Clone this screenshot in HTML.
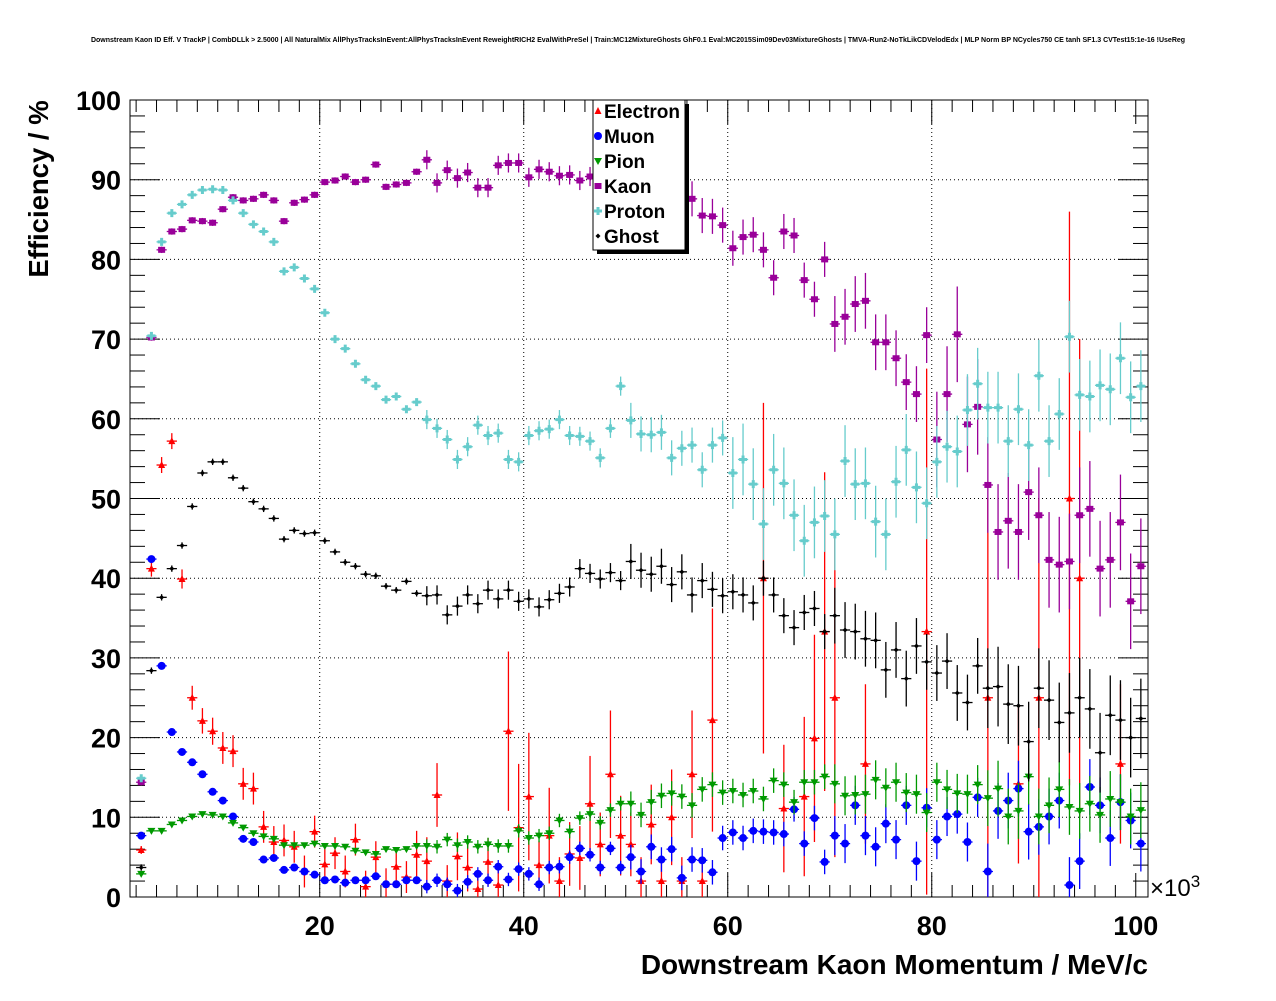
<!DOCTYPE html>
<html><head><meta charset="utf-8">
<style>
body{margin:0;background:#fff;font-family:"Liberation Sans",sans-serif;}
svg text{font-family:"Liberation Sans",sans-serif;}
</style></head><body>
<svg id="c" width="1276" height="996" xmlns="http://www.w3.org/2000/svg">
<rect x="0" y="0" width="1276" height="996" fill="#fff"/>
<text x="638" y="42" font-size="7" font-weight="bold" text-anchor="middle">Downstream Kaon ID Eff. V TrackP | CombDLLk &gt; 2.5000 | All NaturalMix AllPhysTracksInEvent:AllPhysTracksInEvent ReweightRICH2 EvalWithPreSel | Train:MC12MixtureGhosts GhF0.1 Eval:MC2015Sim09Dev03MixtureGhosts | TMVA-Run2-NoTkLikCDVelodEdx | MLP Norm BP NCycles750 CE tanh SF1.3 CVTest15:1e-16 !UseReg</text>
<g id="grid"></g>
<g id="axes"></g>
<g id="marks"></g>
<text x="48" y="189" font-size="27.5" font-weight="bold" text-anchor="middle" transform="rotate(-90 48 189)">Efficiency / %</text>
<text x="1148" y="974" font-size="28" font-weight="bold" text-anchor="end">Downstream Kaon Momentum / MeV/c</text>
<text x="1150" y="896" font-size="24">×10<tspan font-size="17" dy="-9">3</tspan></text>
<g>
<rect x="597" y="104" width="92" height="150" fill="#000"/>
<rect x="593" y="100" width="92" height="150" fill="#fff" stroke="#000" stroke-width="1"/>
<g id="leg"></g>
</g>
</svg>
<script>
const categories=[];for(let i=0;i<99;i++)categories.push(2.5+i);
const electron=[5.9,41.2,54.2,57.2,39.9,25,22.1,20.8,18.7,18.3,14.2,13.6,8.8,6.9,7.1,6.3,3.2,8.2,4.1,5.5,3.2,7.2,1.3,5,1.6,3.8,2.5,5.3,4.5,12.8,2,5.1,3.7,1,4.4,1.5,20.8,8.7,12.6,4,7.7,2,5.4,4.9,11.7,6.6,15.4,7.7,6.6,2,9.1,2,10,2,15.4,2,22.2,0,0,0,0,40,0,11.1,0,12.6,19.9,33.3,25,0,0,16.7,0,0,0,0,0,33.3,0,0,0,0,0,25,0,0,14.2,0,25,0,0,50,40,0,0,0,16.7,0,0];
const electronErr=[0.5,1,1,1,1.2,1.5,1.6,1.7,2,2,2,2,2,2,2,2,2,2,2,2,2,2,2,2,2,2,2,3,3,4,2,3,3,2,3,2,10,8,8,3,6,3,4,4,6,4,8,5,4,3,5,3,6,3,8,3,14,3,3,3,3,22,3,8,3,10,13,20,20,3,3,10,3,3,3,3,3,33,3,3,3,3,3,25,3,3,10,3,25,3,3,36,30,3,3,3,10,3,3];
const muon=[7.7,42.4,29,20.7,18.2,16.9,15.4,13.2,12.1,10.1,7.3,6.9,4.7,4.9,3.4,3.7,3.2,2.8,2.1,2.2,1.8,2.1,2.1,2.6,1.6,1.6,2.1,2.1,1.3,2.1,1.6,0.8,1.9,2.9,2.1,3.8,2.2,3.5,2.9,1.6,3.7,3.8,5,6.1,5.3,3.7,6.1,3.7,5,3.2,6.3,4.7,6,2.4,4.7,4.6,3.1,7.4,8.1,7.4,8.3,8.2,8.1,7.9,11,6.7,9.9,4.4,7.7,6.7,11.5,7.7,6.3,9.2,7.2,11.5,4.5,11.2,7.2,10.1,10.4,6.9,12.5,3.2,10.8,12.1,13.6,8.2,8.8,10.1,12.1,1.5,4.5,13.8,11.5,7.4,11.9,9.6,6.7];
const pion=[2.9,8.3,8.3,9.1,9.6,10.1,10.4,10.3,10.1,9.3,8.7,8,7.6,7.3,6.5,6.5,6.5,6.7,6.4,6.4,6.3,5.8,5.6,5.4,6,5.9,6,6.4,6.4,6.3,7.2,6.5,6.9,6.3,6.6,6.4,6.4,8.3,7.4,7.7,8,9.6,8.2,9.9,10.4,9.3,10.9,11.7,11.7,10.3,11.9,12.7,13,12.6,11.5,13.5,14.1,13.1,13.3,12.8,13.3,12.3,14.6,14.1,11.9,14.4,14.4,15.1,14.2,12.7,12.8,12.9,14.7,13.7,14.4,13.1,12.9,10.6,14.4,13.5,13,12.9,14.1,12.4,13.6,10.1,10.8,15.1,10.1,11.5,13.5,11.3,10.8,11.7,10.3,12.3,11.9,10.1,10.9];
const kaon=[14.4,70.2,81.2,83.5,83.8,84.9,84.8,84.6,86.3,87.8,87.4,87.6,88.1,87.4,84.8,87.1,87.5,88.1,89.7,89.9,90.4,89.7,90,91.9,89.1,89.4,89.6,91,92.5,89.6,91.2,90.2,90.9,89,89,91.8,92.1,92.1,90.3,91.3,91,90.5,90.6,89.9,90.4,90.5,90,90,89.5,89.5,89,89,88.5,88,87.6,85.5,85.4,84.3,81.4,82.8,83.1,81.2,77.7,83.5,83,77.4,75,80,71.9,72.8,74.4,74.8,69.6,69.6,67.6,64.6,63.1,70.5,57.4,63.1,70.6,59.3,61.5,51.7,45.8,47.2,45.8,50.8,47.9,42.3,41.7,42.1,47.9,48.7,41.2,42.3,47,37.1,41.5];
const proton=[14.9,70.4,82.2,85.8,86.9,88.1,88.7,88.8,88.7,87.4,85.8,84.4,83.5,82.2,78.5,79,77.6,76.3,73.3,70,68.8,66.9,64.9,64.1,62.4,62.8,61.2,62.1,59.9,58.8,57.4,54.9,56.5,59.2,57.9,58.2,54.9,54.6,57.9,58.5,58.7,59.9,57.9,57.8,57.2,55.1,58.8,64.1,59.8,58.1,58,58.3,55.1,56.3,56.7,53.6,56.7,57.6,53.2,54.9,51.8,46.8,53.6,51.9,47.9,44.7,47,47.8,45.5,54.7,51.8,51.9,47.1,45.5,52.1,56.1,51.4,49.4,54.6,56.5,55.9,61.1,64.4,61.4,61.4,57.2,61.2,56.7,65.4,57.2,60.6,70.3,63,62.8,64.2,63.7,67.6,62.7,64.1];
const ghost=[3.7,28.4,37.6,41.2,44.1,49,53.2,54.6,54.6,52.6,51.3,49.6,48.7,47.5,44.9,46,45.6,45.7,44.7,43.3,42,41.5,40.5,40.3,39,38.5,39.6,38.1,37.8,37.9,35.4,36.5,37.9,36.8,38.5,37.4,38.5,37.1,37.4,36.4,37.3,38.1,38.9,41.2,40.6,39.9,40.7,39.7,42.1,41,40.5,41.5,39.2,40.8,37.9,39.7,38.6,37.8,38.3,37.9,36.9,40,37.9,35.3,33.8,35.7,36.2,33.3,35.3,33.5,33.3,32.4,32.2,28.5,31,27.4,31.5,29.5,28.1,29.6,25.6,24.4,29,26.2,26.4,24.2,24,19.5,26.2,24.7,21.9,23.1,25,23.6,18.1,22.8,22.2,20,22.4];
const xTicks=[20,40,60,80,100];
const yTicks=[0,10,20,30,40,50,60,70,80,90,100];
const seriesNames=["Electron","Muon","Pion","Kaon","Proton","Ghost"];

const X0=130,X1=1148,Y0=897,Y1=100,XMIN=1.4,XMAX=101.2,YMIN=0,YMAX=100;
const sx=v=>X0+(v-XMIN)/(XMAX-XMIN)*(X1-X0);
const sy=v=>Y0-(v-YMIN)/(YMAX-YMIN)*(Y0-Y1);
const NS="http://www.w3.org/2000/svg";
function mk(tag,attrs,parent){const e=document.createElementNS(NS,tag);for(const k in attrs)e.setAttribute(k,attrs[k]);parent.appendChild(e);return e;}
const grid=document.getElementById('grid'),axes=document.getElementById('axes'),marks=document.getElementById('marks');
xTicks.forEach(t=>{if(t<100){const l=mk('line',{x1:sx(t),x2:sx(t),y1:Y0,y2:Y1,stroke:'#000','stroke-width':1,'stroke-dasharray':'1,3'},grid);}});
yTicks.forEach(t=>{if(t>0&&t<100){const l=mk('line',{x1:X0,x2:X1,y1:sy(t),y2:sy(t),stroke:'#000','stroke-width':1,'stroke-dasharray':'1,3'},grid);}});
const fr=mk('rect',{x:X0,y:Y1,width:X1-X0,height:Y0-Y1,fill:'none',stroke:'#000','stroke-width':1},axes);

for(let v=2;v<=100;v+=2){const maj=v%20===0;const len=maj?24:12;
 mk('line',{x1:sx(v),x2:sx(v),y1:Y0,y2:Y0-len,stroke:'#000'},axes);
 mk('line',{x1:sx(v),x2:sx(v),y1:Y1,y2:Y1+len,stroke:'#000'},axes);}
for(let v=0;v<=100;v+=2){const maj=v%10===0;const len=maj?30:15;
 mk('line',{x1:X0,x2:X0+len,y1:sy(v),y2:sy(v),stroke:'#000'},axes);
 mk('line',{x1:X1,x2:X1-len,y1:sy(v),y2:sy(v),stroke:'#000'},axes);}
xTicks.forEach(t=>{const e=mk('text',{x:sx(t),y:935,'font-size':27,'font-weight':'bold','text-anchor':'middle'},axes);e.textContent=t;
});
yTicks.forEach(t=>{const e=mk('text',{x:121,y:sy(t)+10,'font-size':27,'font-weight':'bold','text-anchor':'end'},axes);e.textContent=t;
});

function marker(g,type,cx,cy,col){
 if(type==='tri')mk('polygon',{points:`${cx},${cy-4} ${cx-3.5},${cy+3} ${cx+3.5},${cy+3}`,fill:col},g);
 else if(type==='circ')mk('circle',{cx:cx,cy:cy,r:4,fill:col},g);
 else if(type==='tridn')mk('polygon',{points:`${cx},${cy+4} ${cx-4},${cy-3} ${cx+4},${cy-3}`,fill:col},g);
 else if(type==='sq')mk('rect',{x:cx-3.5,y:cy-3,width:7,height:6,fill:col},g);
 else if(type==='cross')mk('polygon',{points:`${cx-1.5},${cy-4} ${cx+1.5},${cy-4} ${cx+1.5},${cy-1.5} ${cx+4},${cy-1.5} ${cx+4},${cy+1.5} ${cx+1.5},${cy+1.5} ${cx+1.5},${cy+4} ${cx-1.5},${cy+4} ${cx-1.5},${cy+1.5} ${cx-4},${cy+1.5} ${cx-4},${cy-1.5} ${cx-1.5},${cy-1.5}`,fill:col},g);
 else mk('polygon',{points:`${cx},${cy-2.5} ${cx+2.5},${cy} ${cx},${cy+2.5} ${cx-2.5},${cy}`,fill:col},g);
}
function errFor(name,v,i){
 if(name==='electron')return electronErr[i];
 const x=categories[i];let base=x<30?0.4:x<50?1.2:x<70?2.2:x<85?3.5:5;
 if(name==='kaon'&&x>80)base=6;
 if(name==='proton'&&x>60)base=4.5;
 if(name==='muon'||name==='pion')base*=0.7;
 return base;}
const series=[['electron',electron,'#ff0000','tri'],['muon',muon,'#0000ff','circ'],['pion',pion,'#009900','tridn'],['kaon',kaon,'#990099','sq'],['proton',proton,'#66cccc','cross'],['ghost',ghost,'#000000','dia']];
series.forEach(([name,vals,col,type])=>{
 const g=mk('g',{},marks);
 
 
 vals.forEach((v,i)=>{if(v<=0)return;const cx=sx(categories[i]),cy=sy(v),e=errFor(name,v,i);
  const p=mk('g',{},g);
  
  
  const top=Math.max(Y1,sy(v+e)),bot=Math.min(Y0,sy(Math.max(0,v-e)));
  mk('line',{x1:cx,x2:cx,y1:top,y2:bot,stroke:col,'stroke-width':1.3},p);
  mk('line',{x1:sx(categories[i]-0.5),x2:sx(categories[i]+0.5),y1:cy,y2:cy,stroke:col,'stroke-width':1.3},p);
  marker(p,type,cx,cy,col);
 });
});
const leg=document.getElementById('leg');
seriesNames.forEach((n,i)=>{const s=series[i];const y=111+i*25;
 const g=mk('g',{},leg);
 
 
 marker(g,s[3],598,y,s[2]);
 const t=mk('text',{x:604,y:y+7,'font-size':19,'font-weight':'bold'},g);t.textContent=n;});
</script>
</body></html>
